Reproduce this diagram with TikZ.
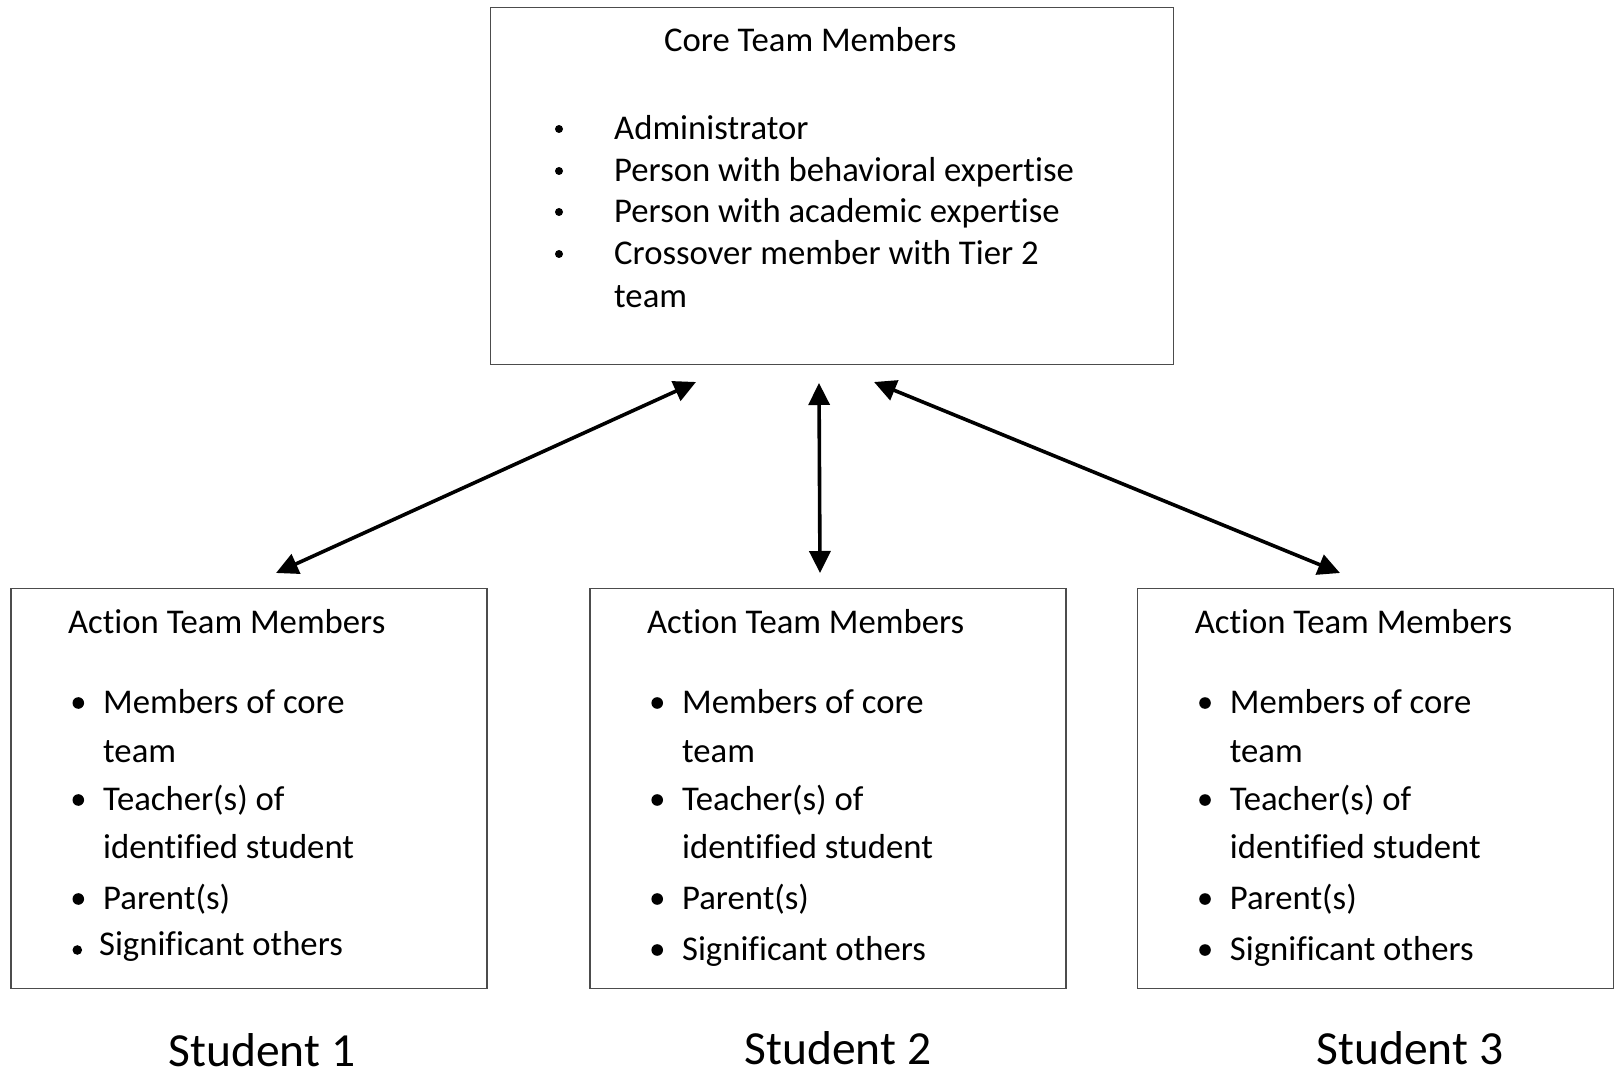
\documentclass[tikz,border=0pt]{standalone}
\usepackage{fontspec}
\setmainfont{Carlito}[Ligatures=NoCommon]
\usetikzlibrary{arrows.meta}
\begin{document}
\begin{tikzpicture}[x=1pt,y=-1pt,
  box/.style={draw=black!70,line width=1.3pt,anchor=north west,inner sep=0pt},
  txt/.style={anchor=base west,inner sep=0pt,font=\fontsize{34.7}{41}\selectfont},
  stud/.style={anchor=base,inner sep=0pt,text depth=0pt,font=\fontsize{47.5}{57}\selectfont},
  link/.style={line width=3.6pt,
    {Triangle[length=22pt,width=21pt]}-{Triangle[length=22pt,width=21pt]}},
]
\useasboundingbox (0,0) rectangle (1615,1078);

% core team box
\node[box,minimum width=683pt,minimum height=357pt] (core) at (490,7) {};
\node[txt] (coretitle) at (664,52) {Core Team Members};
\node[txt] (core1) at (614,140) {Administrator};
\node[txt] (core2) at (614,182) {Person with behavioral expertise};
\node[txt] (core3) at (614,223) {Person with academic expertise};
\node[txt] (core4) at (614,265) {Crossover member with Tier 2};
\node[txt] (core5) at (614,307) {team};
\foreach \y in {140,182,223,265}
  \fill (559,\y-11) circle[radius=4pt];

% action team boxes
\foreach \n/\L/\sb/\sx/\bx/\by/\br in
  {1/10.3/955/88.6/67/5/4.8, 2/589.2/960/92.7/68/10/5.8, 3/1137/960/92.7/68/10/5.8}{
  \node[box,minimum width=476pt,minimum height=400pt] (act\n) at (\L,588) {};
  \node[txt] (act\n-title) at (\L+57.6,633) {Action Team Members};
  \node[txt] (act\n-a) at (\L+92.7,713) {Members of core};
  \node[txt] (act\n-b) at (\L+92.7,762) {team};
  \node[txt] (act\n-c) at (\L+92.7,810) {Teacher(s) of};
  \node[txt] (act\n-d) at (\L+92.7,858) {identified student};
  \node[txt] (act\n-e) at (\L+92.7,909) {Parent(s)};
  \node[txt] (act\n-f) at (\L+\sx,\sb) {Significant others};
  \foreach \y in {713,810,909}
    \fill (\L+68,\y-10) circle[radius=5.8pt];
  \fill (\L+\bx,\sb-\by) circle[radius=\br pt];
}

% student labels
\node[stud] (stu1) at (262,1066) {Student 1};
\node[stud] (stu2) at (838,1064) {Student 2};
\node[stud] (stu3) at (1410,1064) {Student 3};

% connector ends
\coordinate (c1) at (696,382);
\coordinate (c2) at (819,383);
\coordinate (c3) at (874,382);
\coordinate (s1) at (276,573);
\coordinate (s2) at (820,573);
\coordinate (s3) at (1340,573);

\draw[link] (s1) -- (c1);
\draw[link] (s2) -- (c2);
\draw[link] (s3) -- (c3);
\end{tikzpicture}
\end{document}
